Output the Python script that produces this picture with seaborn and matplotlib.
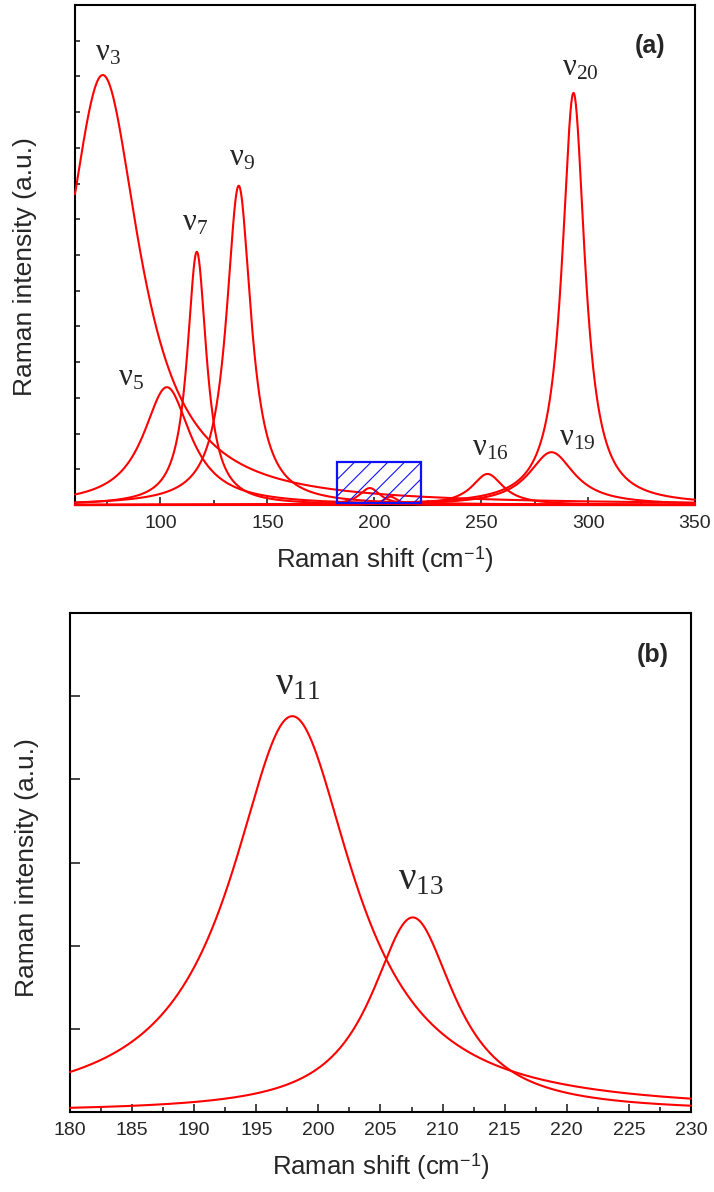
import numpy as np
import pandas as pd
import matplotlib
matplotlib.use("Agg")
import matplotlib.pyplot as plt
import seaborn as sns
from matplotlib.patches import Rectangle
from matplotlib.ticker import MultipleLocator, NullFormatter

# ---------------- data (Lorentzian peak fits) ----------------
modes = ["3", "5", "7", "9", "11", "13", "16", "19", "20"]
centers = [73.0, 103.0, 117.0, 136.6, 197.9, 207.6, 253.0, 282.9, 293.2]
heights = [12.04, 3.30, 7.09, 8.94, 0.476, 0.234, 0.87, 1.48, 11.54]
hwhm = [21.0, 13.5, 5.5, 7.0, 6.0, 4.1, 9.0, 13.0, 6.5]
zoom_modes = ["11", "13"]
inset_x = [182.4, 221.7]
inset_y = [0.05, 1.2]
xlim_a = [60, 350]
xlim_b = [180, 230]


def curves(xr, subset=None):
    rows = []
    x = np.linspace(xr[0], xr[1], 1500)
    for m, c, h, w in zip(modes, centers, heights, hwhm):
        if subset is not None and m not in subset:
            continue
        y = h / (1.0 + ((x - c) / w) ** 2)
        rows.append(pd.DataFrame({"shift": x, "intensity": y, "mode": m}))
    return pd.concat(rows, ignore_index=True)


df_a = curves(xlim_a)
df_b = curves(xlim_b, zoom_modes)

# ---------------- style ----------------
sns.set_style("white")
plt.rcParams["font.family"] = ["Liberation Sans", "DejaVu Sans"]
plt.rcParams["mathtext.fontset"] = "custom"
plt.rcParams["mathtext.rm"] = "Liberation Serif"
plt.rcParams["mathtext.it"] = "Liberation Serif:italic"
plt.rcParams["mathtext.sf"] = "Liberation Sans"
plt.rcParams["hatch.linewidth"] = 0.8

fig = plt.figure(figsize=(7.14, 11.92), dpi=100)
ax1 = fig.add_axes([0.105, 0.5763, 0.8683, 0.4195])
ax2 = fig.add_axes([0.098, 0.0671, 0.8697, 0.4186])

for ax, df in ((ax1, df_a), (ax2, df_b)):
    sns.lineplot(data=df, x="shift", y="intensity", units="mode", estimator=None,
                 color="#ff0000", linewidth=1.5, ax=ax, legend=False,
                 clip_on=False, zorder=3, sort=False)

# zoom region marker
ax1.add_patch(Rectangle((inset_x[0], inset_y[0]), inset_x[1] - inset_x[0],
                        inset_y[1] - inset_y[0], facecolor="none",
                        edgecolor="#1010ff", hatch="//", linewidth=1.6, zorder=4))

ax1.set_xlim(*xlim_a)
ax1.set_ylim(0, 14)
ax2.set_xlim(*xlim_b)
ax2.set_ylim(0, 0.6)

ax1.xaxis.set_major_locator(MultipleLocator(50))
ax1.xaxis.set_minor_locator(MultipleLocator(25))
ax1.set_xticks([100, 150, 200, 250, 300, 350])
ax1.set_yticks(np.arange(1, 14, 1))
ax2.xaxis.set_major_locator(MultipleLocator(5))
ax2.xaxis.set_minor_locator(MultipleLocator(2.5))
ax2.set_yticks(np.arange(0.1, 0.55, 0.1))

for ax, ylen in ((ax1, 3.8), (ax2, 7)):
    ax.yaxis.set_major_formatter(NullFormatter())
    ax.tick_params(axis="x", which="major", direction="in", length=6, width=1.2,
                   labelsize=14, pad=7, bottom=True, top=False)
    ax.tick_params(axis="x", which="minor", direction="in", length=3.5, width=1.2,
                   bottom=True, top=False)
    ax.tick_params(axis="y", which="major", direction="in", length=ylen, width=1.2,
                   left=True, right=False)
    for s in ax.spines.values():
        s.set_linewidth(1.5)
        s.set_color("black")
    ax.set_xlabel("Raman shift (cm$^{\\mathsf{-1}}$)", fontsize=18.5, labelpad=9)

ax1.set_ylabel("Raman intensity (a.u.)", fontsize=19)
ax2.set_ylabel("Raman intensity (a.u.)", fontsize=19)
ax1.yaxis.set_label_coords(-0.061, 0.476)
ax2.yaxis.set_label_coords(-0.05, 0.49)

# peak labels (left edge / baseline positions)
label_pos_a = {"3": (69.3, 12.46), "5": (80.3, 3.36), "7": (110.0, 7.70),
               "9": (132.0, 9.52), "16": (245.6, 1.40), "19": (286.6, 1.68),
               "20": (288.0, 12.04)}
for m, (lx, ly) in label_pos_a.items():
    ax1.text(lx, ly, "ν$_{\\mathrm{%s}}$" % m, fontsize=22, family="Liberation Serif",
             ha="left", va="baseline")

label_pos_b = {"11": (196.5, 0.502), "13": (206.4, 0.268)}
for m, (lx, ly) in label_pos_b.items():
    ax2.text(lx, ly, "ν$_{\\mathrm{%s}}$" % m, fontsize=28, family="Liberation Serif",
             ha="left", va="baseline")

ax1.text(0.927, 0.918, "(a)", transform=ax1.transAxes, fontsize=18,
         fontweight="bold", ha="center", va="center")
ax2.text(0.939, 0.915, "(b)", transform=ax2.transAxes, fontsize=18,
         fontweight="bold", ha="center", va="center")

fig.savefig("out.png", dpi=100)
